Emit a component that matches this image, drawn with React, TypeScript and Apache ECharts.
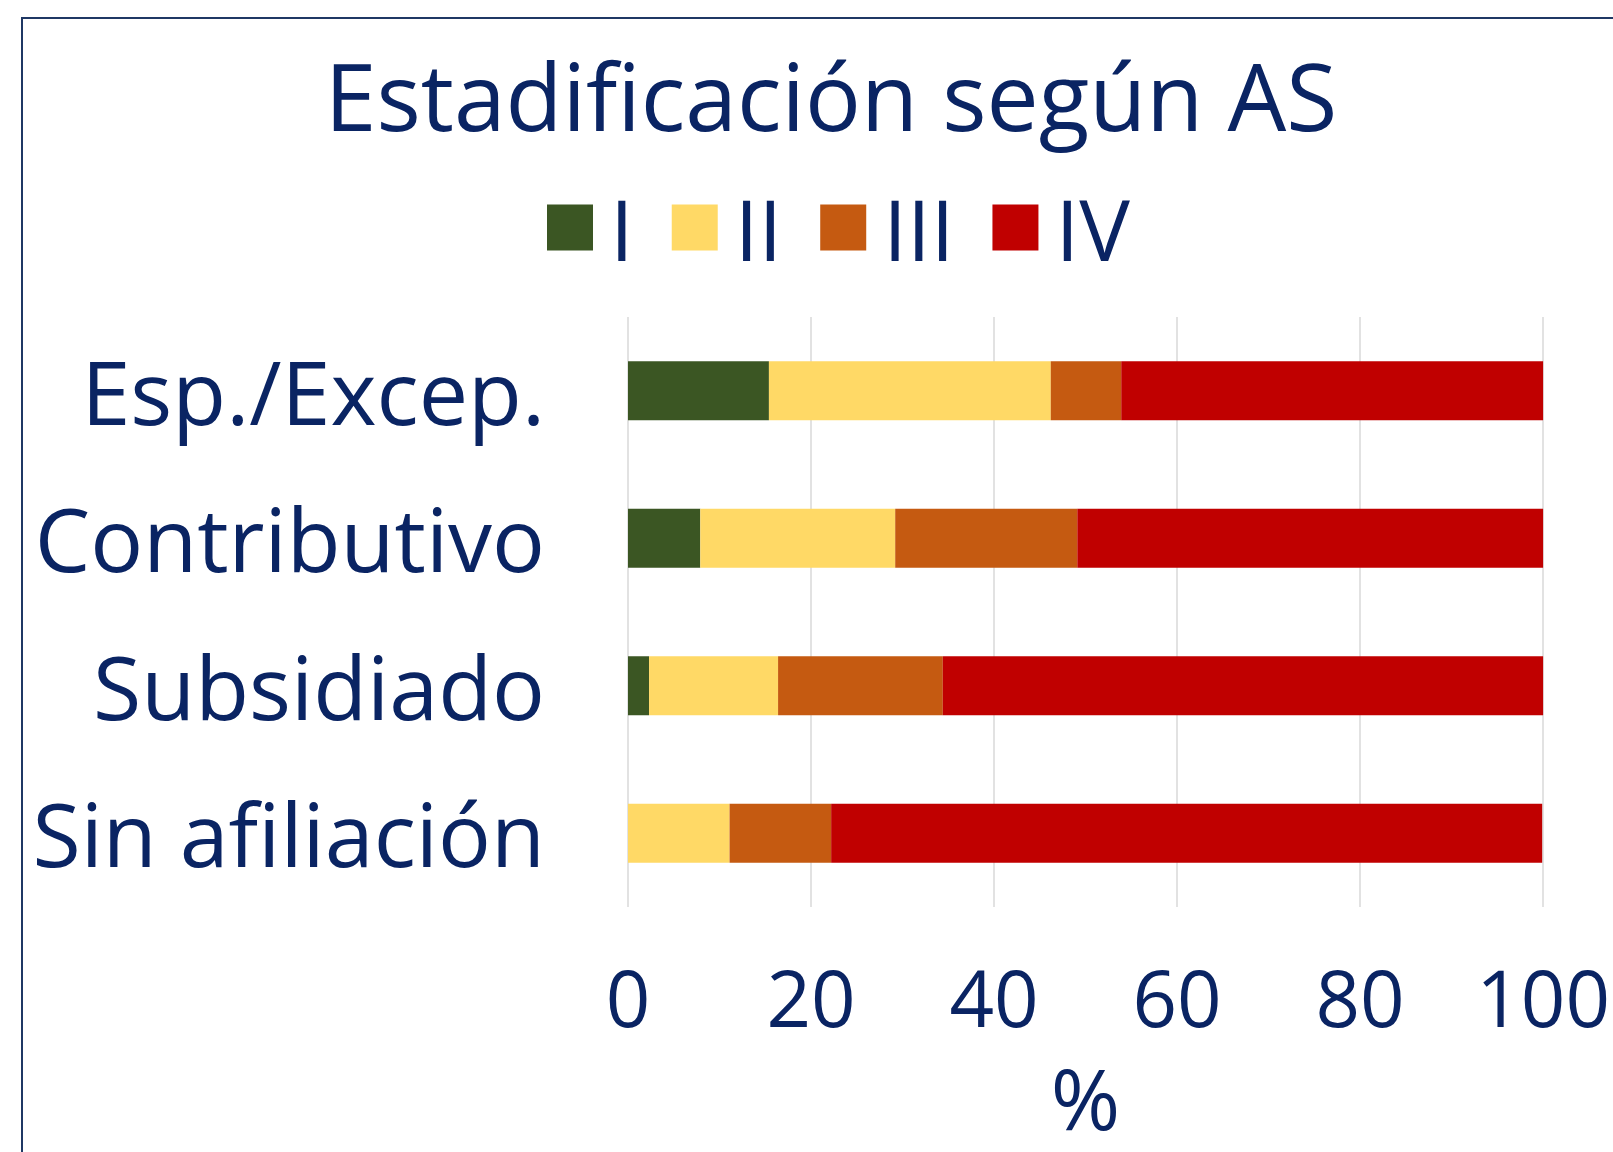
import React, { useEffect, useRef } from "react";
import * as echarts from "echarts";

const categories = ["Esp./Excep.", "Contributivo", "Subsidiado", "Sin afiliación"];
const seriesNames = ["I", "II", "III", "IV"];
const valuesI = [15.4, 7.9, 2.3, 0];
const valuesII = [30.8, 21.3, 14.1, 11.1];
const valuesIII = [7.7, 19.9, 18.0, 11.1];
const valuesIV = [46.1, 50.9, 65.6, 77.7];
const xTicks = [0, 20, 40, 60, 80, 100];
const colors = ["#3B5623", "#FFD966", "#C55A11", "#C00000"];

const NAVY = "#0A2463";
const FONT = "'Open Sans', sans-serif";

export default function App() {
  const ref = useRef<HTMLDivElement>(null);
  useEffect(() => {
    if (!ref.current) return;
    const chart = echarts.init(ref.current, undefined, { renderer: "svg" });
    const data = [valuesI, valuesII, valuesIII, valuesIV];
    chart.setOption({
      animation: false,
      backgroundColor: "#ffffff",
      textStyle: { fontFamily: FONT },
      graphic: [
        {
          type: "rect",
          shape: { x: 22, y: 18, width: 1700, height: 1300 },
          style: { fill: "none", stroke: "#1F3864", lineWidth: 2 },
          silent: true,
        },
        {
          type: "text",
          x: 831,
          y: 95,
          style: {
            text: "Estadificación según AS",
            fontSize: 93,
            fontFamily: FONT,
            fill: NAVY,
            align: "center",
            verticalAlign: "middle",
          },
        },
      ],
      legend: {
        data: seriesNames,
        left: 542,
        top: 180,
        itemWidth: 46,
        itemHeight: 46,
        itemGap: 38,
        icon: "rect",
        textStyle: {
          fontSize: 85,
          color: NAVY,
          fontFamily: FONT,
          padding: [0, 0, 0, 12],
        },
      },
      grid: { left: 628, right: 65, top: 317, bottom: 245 },
      xAxis: {
        type: "value",
        min: 0,
        max: 100,
        interval: 20,
        data: xTicks,
        name: "%",
        nameLocation: "middle",
        nameGap: 148,
        nameTextStyle: { fontSize: 84, lineHeight: 84, color: NAVY, fontFamily: FONT },
        axisLine: { show: false },
        axisTick: { show: false },
        axisLabel: { fontSize: 78, color: NAVY, margin: 51, fontFamily: FONT },
        splitLine: { show: true, lineStyle: { color: "#D9D9D9", width: 1.5 } },
      },
      yAxis: {
        type: "category",
        data: categories,
        inverse: true,
        axisLine: { show: false },
        axisTick: { show: false },
        axisLabel: {
          fontSize: 88,
          color: NAVY,
          margin: 83,
          fontFamily: FONT,
          padding: [0, 0, 12, 0],
        },
      },
      series: seriesNames.map((name, i) => ({
        name,
        type: "bar",
        stack: "total",
        barCategoryGap: "60%",
        itemStyle: { color: colors[i] },
        data: data[i],
      })),
    });
    return () => chart.dispose();
  }, []);
  return (
    <div
      ref={ref}
      style={{ position: "absolute", left: 0, top: 0, width: 1613, height: 1152, background: "#fff" }}
    />
  );
}
